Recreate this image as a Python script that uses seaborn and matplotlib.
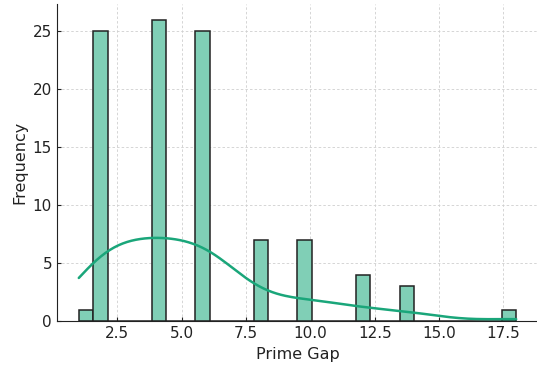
import numpy as np
import pandas as pd
import seaborn as sns
import matplotlib.pyplot as plt

# gaps between consecutive primes (first 100 primes) and how often each occurs
gap_values = [1, 2, 4, 6, 8, 10, 12, 14, 18]
gap_counts = [1, 25, 26, 25, 7, 7, 4, 3, 1]

df = pd.DataFrame({'gap': np.repeat(gap_values, gap_counts)})

sns.set_style('ticks')
plt.rcParams['font.family'] = ['DejaVu Sans']

fig = plt.figure(figsize=(5.37, 3.70), dpi=100)
ax = fig.add_axes([0.106, 0.132, 0.896, 0.856])

sns.histplot(data=df, x='gap', bins=30, kde=True, color='#1aa67a',
             facecolor='#80cfb6', edgecolor='#222222', linewidth=1.1,
             alpha=1.0, line_kws={'linewidth': 1.8}, ax=ax)

ax.grid(True, linestyle=(0, (3, 2.5)), color='#cfcfcf', linewidth=0.6)
ax.set_axisbelow(True)
ax.spines['top'].set_visible(False)
ax.spines['right'].set_visible(False)
ax.spines['left'].set_color('#222222')
ax.spines['bottom'].set_color('#222222')
ax.tick_params(direction='in', length=3, labelsize=11, colors='#222222')
ax.set_xlabel('Prime Gap', fontsize=11.5, color='#222222')
ax.set_ylabel('Frequency', fontsize=11.5, color='#222222')
ax.set_yticks([0, 5, 10, 15, 20, 25])
ax.set_ylim(0, 27.3)

fig.savefig('out.png', dpi=100)
